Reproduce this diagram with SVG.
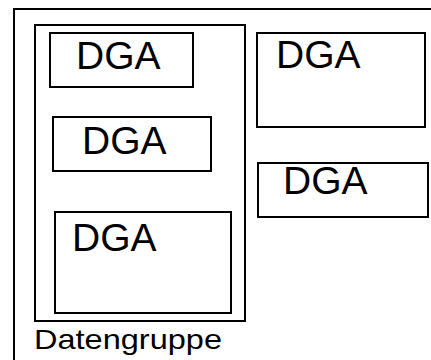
<svg xmlns="http://www.w3.org/2000/svg" width="431" height="360" viewBox="0 0 431 360">
<style>
.box{fill:none;stroke:#000;stroke-width:2}
.lbl{font-family:"Liberation Sans",Arial,sans-serif;font-size:39px;fill:#000}
.cap{font-family:"Liberation Sans",Arial,sans-serif;font-size:28px;fill:#000}
</style>
<rect width="431" height="360" fill="#fff"/>
<g id="frame">
<path class="box" d="M14,362 V9 H433"/>
</g>
<g id="datengruppe">
<rect class="box" x="35" y="25" width="210" height="296"/>
<text class="cap" x="34" y="349" textLength="188" lengthAdjust="spacingAndGlyphs">Datengruppe</text>
</g>
<g id="dga1">
<rect class="box" x="50" y="33" width="143" height="54"/>
<text class="lbl" x="76" y="69">DGA</text>
</g>
<g id="dga2">
<rect class="box" x="257" y="33" width="168" height="94"/>
<text class="lbl" x="276" y="68">DGA</text>
</g>
<g id="dga3">
<rect class="box" x="53" y="117" width="158" height="54"/>
<text class="lbl" x="82" y="154">DGA</text>
</g>
<g id="dga4">
<rect class="box" x="258" y="163" width="170" height="54"/>
<text class="lbl" x="283" y="194">DGA</text>
</g>
<g id="dga5">
<rect class="box" x="55" y="212" width="176" height="101"/>
<text class="lbl" x="72" y="251">DGA</text>
</g>
<g id="connectors"></g>
</svg>
